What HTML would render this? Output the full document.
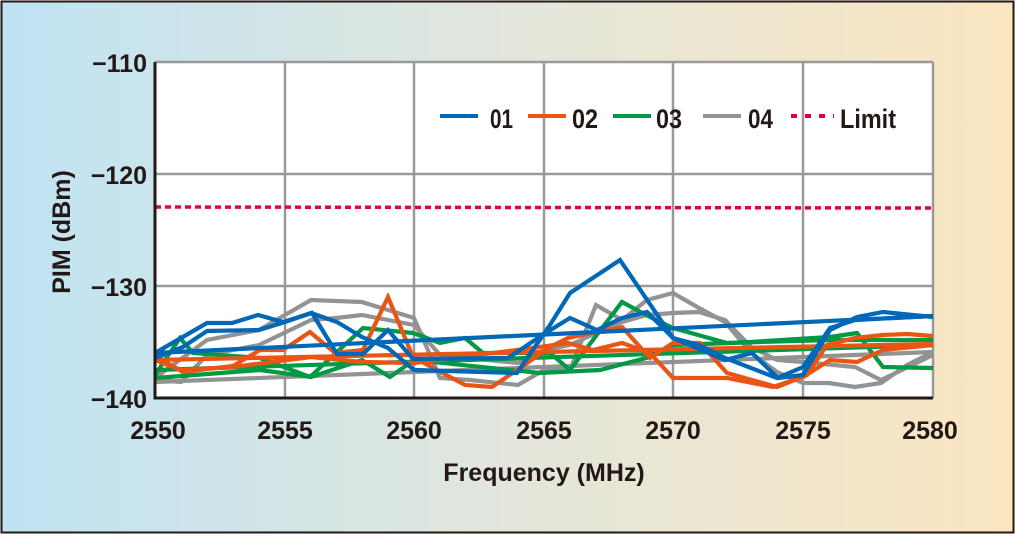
<!DOCTYPE html>
<html><head><meta charset="utf-8"><style>
html,body{margin:0;padding:0;}
body{width:1015px;height:534px;overflow:hidden;}
</style></head><body>
<svg width="1015" height="534" xmlns="http://www.w3.org/2000/svg" font-family="Liberation Sans, sans-serif" font-weight="bold">
<defs><linearGradient id="bg" x1="0" x2="1" y1="0" y2="0">
<stop offset="0" stop-color="#bfe3f3"/><stop offset="0.5" stop-color="#e2e6dc"/><stop offset="1" stop-color="#fbe6c0"/></linearGradient></defs>
<rect x="1.5" y="1.5" width="1012" height="531" fill="url(#bg)" stroke="#231815" stroke-width="2"/>
<rect x="155" y="62" width="778" height="336" fill="#fff"/>
<g stroke="#999" stroke-width="2.5">
<line x1="285" y1="62" x2="285" y2="398"/><line x1="414" y1="62" x2="414" y2="398"/><line x1="544" y1="62" x2="544" y2="398"/><line x1="673" y1="62" x2="673" y2="398"/><line x1="803" y1="62" x2="803" y2="398"/><line x1="933" y1="62" x2="933" y2="398"/>
<line x1="155" y1="62" x2="933" y2="62"/><line x1="155" y1="174" x2="933" y2="174"/><line x1="155" y1="286" x2="933" y2="286"/>
</g>
<line x1="155" y1="207" x2="933" y2="208" stroke="#e0004d" stroke-width="3.5" stroke-dasharray="6,4"/>
<g fill="none" stroke-width="4.2" stroke-linejoin="miter">
<g stroke="#939393">
<polyline points="155,378 207,340 259,330 311,300 362,302 388,310 414,318 440,378 470,380 518,385 544,370 570,370 596,305 622,320 647,300 673,293 699,308 725,322 751,353 777,372 803,383 829,383 855,387 881,383 907,365 933,352"/>
<polyline points="155,380 181,382 207,355 259,345 311,320 336,318 362,315 414,325 440,355 518,363 544,350 570,345 596,333 622,322 647,315 673,313 699,312 725,320 751,347 777,360 803,362 855,367 881,380 933,355"/>
<polyline points="155,382 933,352"/>
</g>
<g stroke="#009a44">
<polyline points="155,375 180,338 193,353 260,358 310,377 363,328 413,333 440,343 465,338 483,353 550,353 570,370 622,302 650,317 673,328 727,343 750,342 830,337 857,333 883,367 933,368"/>
<polyline points="155,378 260,370 311,377 362,360 390,377 414,360 540,373 600,370 650,357 673,345 760,342 830,340 933,340"/>
<polyline points="155,370 933,345"/>
</g>
<g stroke="#ea5514">
<polyline points="155,356 183,372 233,366 260,350 283,350 310,332 335,353 363,350 388,297 413,357 437,370 465,385 492,387 517,370 550,347 568,338 622,327 650,358 673,343 700,343 727,373 777,387 807,375 827,345 855,338 883,335 907,334 933,336"/>
<polyline points="155,360 181,370 233,367 311,357 362,362 414,363 540,347 568,343 593,350 622,343 650,353 673,378 727,378 773,387 803,377 830,360 857,362 883,350 933,345"/>
<polyline points="155,360 933,344"/>
</g>
<g stroke="#0068b7">
<polyline points="155,353 207,323 232,323 258,315 283,322 312,313 337,354 363,354 388,330 413,359 508,358 544,334 570,318 597,330 622,318 647,312 673,338 725,360 752,353 778,378 803,375 830,330 857,317 883,312 933,317"/>
<polyline points="155,358 183,347 207,331 259,330 285,322 311,313 337,322 362,337 388,348 414,370 517,373 550,325 570,293 620,260 673,338 699,345 725,358 777,378 803,367 830,328 855,320 933,316"/>
<polyline points="155,353 933,316"/>
</g>
</g>
<polyline points="155,62 155,398 933,398" fill="none" stroke="#231815" stroke-width="3"/>
<g stroke-width="4">
<line x1="440" y1="116" x2="478" y2="116" stroke="#0068b7"/>
<line x1="528" y1="116" x2="566" y2="116" stroke="#ea5514"/>
<line x1="613" y1="116" x2="651" y2="116" stroke="#009a44"/>
<line x1="703" y1="116" x2="741" y2="116" stroke="#939393"/>
<line x1="791" y1="116" x2="834" y2="116" stroke="#e0004d" stroke-dasharray="6,8"/>
</g>
<g font-size="27" fill="#231815">
<text x="490" y="128" textLength="23" lengthAdjust="spacingAndGlyphs">01</text><text x="572" y="128" textLength="26" lengthAdjust="spacingAndGlyphs">02</text><text x="656" y="128" textLength="26" lengthAdjust="spacingAndGlyphs">03</text><text x="748" y="128" textLength="25" lengthAdjust="spacingAndGlyphs">04</text><text x="840" y="128" textLength="56" lengthAdjust="spacingAndGlyphs">Limit</text>
</g>
<g font-size="25" fill="#231815">
<g text-anchor="end"><text x="147" y="72">−110</text><text x="147" y="184">−120</text><text x="147" y="296">−130</text><text x="147" y="408">−140</text></g>
<g text-anchor="middle"><text x="158" y="439">2550</text><text x="285" y="439">2555</text><text x="414" y="439">2560</text><text x="544" y="439">2565</text><text x="673" y="439">2570</text><text x="803" y="439">2575</text><text x="930" y="439">2580</text>
<text x="544" y="481">Frequency (MHz)</text>
<text transform="translate(70,232) rotate(-90)">PIM (dBm)</text></g>
</g>
</svg>
</body></html>
